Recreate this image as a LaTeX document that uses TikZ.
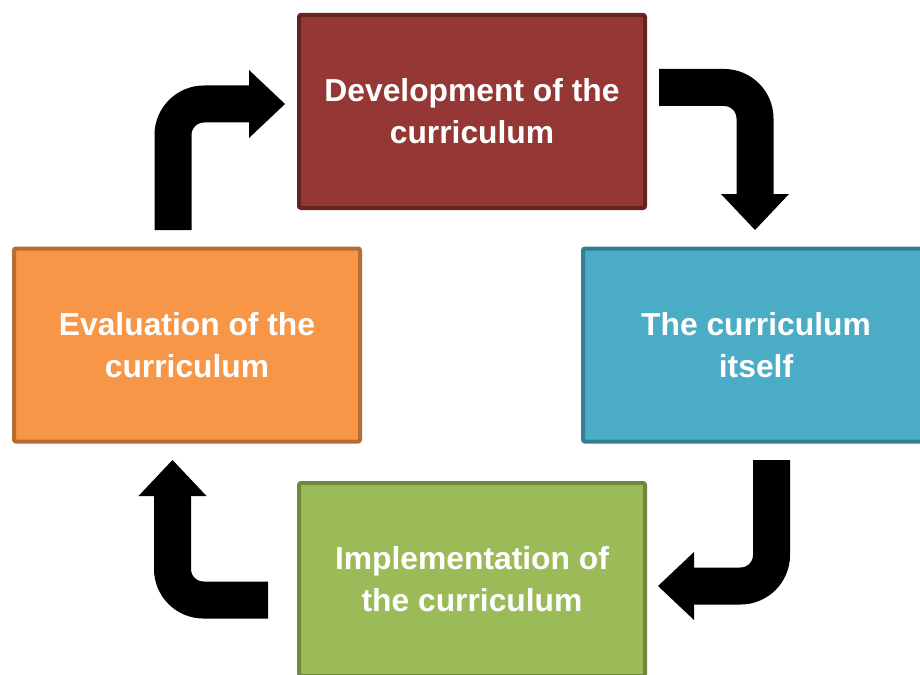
\documentclass[tikz,border=0pt]{standalone}
\usepackage{fontspec}
\setmainfont{Liberation Sans}
\usetikzlibrary{arrows.meta}
\definecolor{redfill}{RGB}{149,55,53}
\definecolor{redline}{RGB}{99,37,35}
\definecolor{bluefill}{RGB}{75,172,198}
\definecolor{blueline}{RGB}{53,125,145}
\definecolor{orangefill}{RGB}{247,150,70}
\definecolor{orangeline}{RGB}{182,109,49}
\definecolor{greenfill}{RGB}{155,187,89}
\definecolor{greenline}{RGB}{113,137,63}
\begin{document}
\begin{tikzpicture}[x=1pt,y=-1pt,
  box/.style={line width=4pt, rounded corners=2pt, minimum width=346pt,
    minimum height=193pt, align=center, text=white, inner sep=0pt,
    font=\fontsize{31.8}{42}\selectfont\bfseries},
  bent/.style={line width=37pt, rounded corners=31pt, line cap=butt,
    -{Triangle[length=36pt,width=68pt,line width=0pt]}}]
\useasboundingbox (0,0) rectangle (920,674);
\clip (0,0) rectangle (920,674);
\fill[white] (0,0) rectangle (920,674);

\node[box, fill=redfill, draw=redline] (dev) at (472,111.5) {Development of the\\curriculum};
\node[box, fill=bluefill, draw=blueline] (cur) at (756,345) {The curriculum\\itself};
\node[box, fill=orangefill, draw=orangeline] (eval) at (187,345) {Evaluation of the\\curriculum};
\node[box, fill=greenfill, draw=greenline] (impl) at (472,579.5) {Implementation of\\the curriculum};

\coordinate (a1s) at (173,230);
\coordinate (a1c) at (173,104);
\coordinate (a1e) at (285,104);
\coordinate (a2s) at (659,87.5);
\coordinate (a2c) at (755,87.5);
\coordinate (a2e) at (755,230);
\coordinate (a3s) at (771.5,460);
\coordinate (a3c) at (771.5,586);
\coordinate (a3e) at (658,586);
\coordinate (a4s) at (268,600);
\coordinate (a4c) at (172.5,600);
\coordinate (a4e) at (172.5,460);

\draw[bent] (a1s) -- (a1c) -- (a1e);
\draw[bent] (a2s) -- (a2c) -- (a2e);
\draw[bent] (a3s) -- (a3c) -- (a3e);
\draw[bent] (a4s) -- (a4c) -- (a4e);
\end{tikzpicture}
\end{document}
